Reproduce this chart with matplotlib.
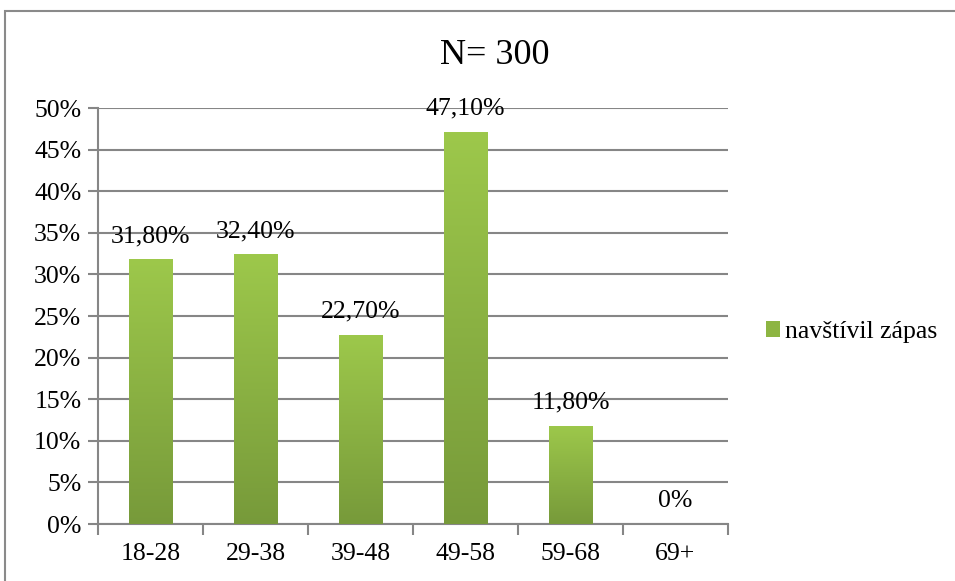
import matplotlib
matplotlib.use("Agg")
import matplotlib.pyplot as plt
import numpy as np
from matplotlib.patches import Rectangle, Patch
from matplotlib.colors import LinearSegmentedColormap

categories = ["18-28", "29-38", "39-48", "49-58", "59-68", "69+"]
values = [31.8, 32.4, 22.7, 47.1, 11.8, 0.0]
labels = ["31,80%", "32,40%", "22,70%", "47,10%", "11,80%", "0%"]
yticks = [0, 5, 10, 15, 20, 25, 30, 35, 40, 45, 50]
title = "N= 300"
series_name = "navštívil zápas"

plt.rcParams['font.family'] = ['Liberation Serif', 'DejaVu Serif']
FS = 18.5

fig = plt.figure(figsize=(9.55, 5.81), dpi=100)
ax = fig.add_axes([0.1026, 0.0981, 0.6597, 0.716])

grid_c = "#868686"
x = np.arange(len(categories))
bars = ax.bar(x, values, width=0.41, color="#8db542", zorder=3, linewidth=0)

cmap = LinearSegmentedColormap.from_list("g", ["#779a3a", "#9dc84b"])
grad = np.linspace(0, 1, 256).reshape(-1, 1)
for b in bars:
    h = b.get_height()
    if h <= 0:
        continue
    x0 = b.get_x()
    w = b.get_width()
    im = ax.imshow(grad, cmap=cmap, aspect="auto", origin="lower",
                   extent=[x0, x0 + w, 0, h], zorder=4)
    im.set_clip_path(b)

ax.set_xlim(-0.5, len(categories) - 0.5)
ax.set_ylim(0, 50)
ax.set_yticks(yticks)
ax.set_yticklabels([f"{t}%" for t in yticks], fontsize=FS)
ax.yaxis.grid(True, color=grid_c, linewidth=1.5, zorder=0)
ax.set_axisbelow(True)

ax.set_xticks(np.arange(len(categories) + 1) - 0.5)
ax.set_xticklabels([])
ax.set_xticks(x, minor=True)
ax.set_xticklabels(categories, minor=True, fontsize=FS)
ax.tick_params(axis="x", which="major", length=8, color=grid_c, width=1.5, direction="out")
ax.tick_params(axis="x", which="minor", length=0, pad=14)
ax.tick_params(axis="y", length=7, color=grid_c, width=1.5, pad=5)

for s in ["top", "right"]:
    ax.spines[s].set_visible(False)
for s in ["left", "bottom"]:
    ax.spines[s].set_color(grid_c)
    ax.spines[s].set_linewidth(1.5)

for xi, v, lab in zip(x, values, labels):
    ax.annotate(lab, (xi, v), xytext=(0, 12.5), textcoords="offset points",
                ha="center", va="baseline", fontsize=FS, zorder=5)

fig.text(0.518, 0.905, title, ha="center", va="center", fontsize=26)

handle = Patch(facecolor="#8db542", edgecolor="none")
fig.legend([handle], [series_name], loc="center left", bbox_to_anchor=(0.802, 0.4286),
           frameon=False, fontsize=FS, handlelength=0.55, handleheight=0.55,
           handletextpad=0.2, borderaxespad=0, borderpad=0)

fig.patches.append(Rectangle((5 / 955, -0.05), 1.2, 1 - 11 / 581 + 0.05,
                             transform=fig.transFigure, fill=False,
                             edgecolor="#8a8a8a", linewidth=1.5))

fig.savefig("out.png", dpi=100)
